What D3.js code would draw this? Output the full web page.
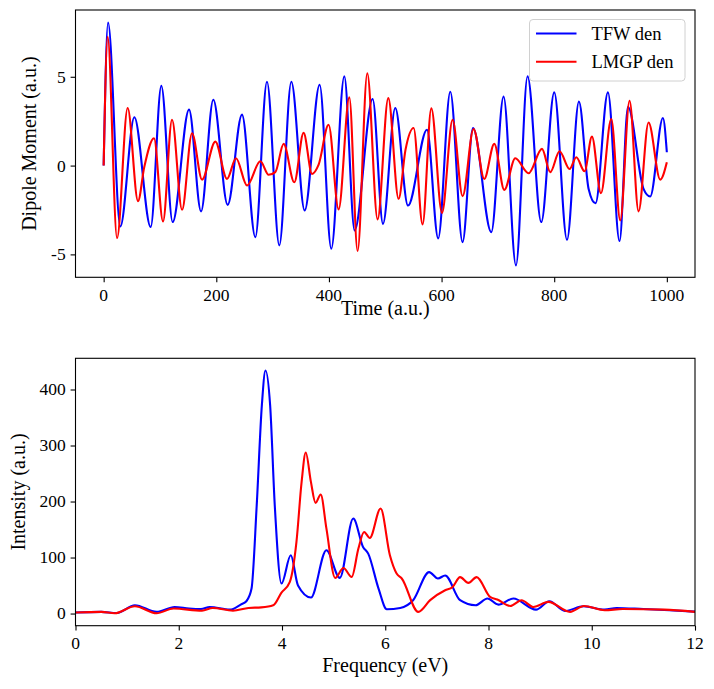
<!DOCTYPE html>
<html>
<head>
<meta charset="utf-8">
<script src="https://cdn.jsdelivr.net/npm/d3@7"></script>
<style>
  html, body { margin: 0; padding: 0; background: #fff; }
  svg { display: block; font-family: "Liberation Serif", "Times New Roman", Times, serif; }
  svg text { font-family: "Liberation Serif", "Times New Roman", Times, serif; fill: #000; }
</style>
</head>
<body>
<svg id="chart" width="714" height="689"></svg>
<script>
// ---------- Data ----------
// Top panel: dipole moment vs time (extrema / shape points)
const tfwTime = [0, 7.8, 29.6, 54.5, 83.5, 102.4, 122.5, 151.6, 172.9, 194.7, 220.2, 245.6, 269.3, 290, 311.9, 333.2, 356.9, 383.5, 404.2, 427.3, 445.6, 477.6, 496, 517.8, 540.4, 574.1, 594, 615.5, 637.3, 655.8, 688.3, 710.1, 732.1, 752.7, 777, 800.1, 822.7, 843.9, 861, 873.4, 895.4, 916, 931, 958.6, 970.5, 993, 1000];
const tfwDipole = [0, 8.05, -3.43, 2.72, -3.46, 4.49, -3.18, 3.15, -2.58, 3.71, -2.21, 2.87, -4.03, 4.72, -4.49, 4.72, -2.53, 4.55, -4.68, 5.02, -3.65, 3.75, -3.28, 3.24, -2.25, 2.02, -4.1, 4.16, -4.31, 2.12, -3.75, 3.88, -5.62, 5.02, -3.18, 4.12, -4.18, 3.6, -1.3, -2.12, 4.12, -4.25, 3.3, -1.31, -1.74, 2.68, 0.75];

const lmgpTime = [0, 7.1, 23.8, 42.6, 61, 72, 89.4, 105.4, 121.4, 139.2, 156.9, 174.7, 198.3, 219, 235, 254.6, 278.2, 293, 304.8, 319.6, 338.5, 355, 370, 381.7, 399.4, 417.2, 436.2, 450.9, 468.1, 486.4, 505.4, 523.7, 536, 550.3, 566.3, 581.8, 600.7, 619.6, 637.3, 656.9, 675.8, 693.6, 711.4, 730.9, 754.5, 778.3, 793, 809.5, 827.3, 839.2, 853.9, 867, 883, 901.3, 917.3, 933.8, 949.8, 967.5, 988.3, 1000];
const lmgpDipole = [0, 7.25, -4.08, 3.24, -2.0, -0.1, 1.54, -3.15, 2.58, -2.49, 1.82, -0.79, 1.35, -0.75, 0.41, -1.12, 0.24, -0.52, -0.37, 1.22, -0.94, 1.84, -0.47, 0.05, 2.3, -2.47, 3.84, -4.81, 5.19, -3.03, 3.8, -1.87, 0.9, 2.12, -3.31, 3.22, -2.66, 2.58, -1.72, 2.06, -0.75, 1.22, -1.37, 0.41, -0.43, 0.94, -0.37, 0.81, -0.19, 0.47, -0.32, 1.63, -1.56, 2.62, -3.09, 3.65, -2.58, 2.43, -0.79, 0.19];

// Bottom panel: spectrum
const tfwFreq = [0, 0.5, 0.8, 1.15, 1.57, 1.92, 2.2, 2.43, 2.6, 2.99, 3.2, 3.31, 3.41, 3.51, 3.61, 3.68, 3.77, 3.86, 3.99, 4.17, 4.31, 4.56, 4.86, 5.12, 5.38, 5.57, 5.67, 5.87, 6.03, 6.29, 6.54, 6.85, 7.02, 7.16, 7.45, 7.75, 7.98, 8.19, 8.48, 8.92, 9.18, 9.48, 9.84, 10.25, 10.48, 11, 11.5, 12];
const tfwIntensity = [2, 3, 1, 14.8, 3, 11.8, 9, 8, 11.8, 7, 16, 22, 44.6, 193, 372, 434, 372, 193, 53.6, 104, 50, 28.6, 113, 63.6, 169.6, 119, 107, 44.6, 7.7, 10, 23.8, 74, 62.5, 68, 23.8, 14.8, 26.8, 16, 26.8, 7, 22, 4.6, 13, 7, 10, 8, 6, 3.5];

const lmgpFreq = [0, 0.5, 0.76, 1.15, 1.57, 1.9, 2.45, 2.66, 3.05, 3.35, 3.6, 3.83, 3.99, 4.15, 4.28, 4.38, 4.46, 4.56, 4.65, 4.75, 4.86, 5.03, 5.19, 5.35, 5.48, 5.59, 5.70, 5.91, 6.09, 6.22, 6.32, 6.64, 6.87, 7.16, 7.3, 7.45, 7.61, 7.77, 8.03, 8.17, 8.42, 8.64, 8.87, 9.16, 9.58, 9.85, 10.25, 10.6, 11.4, 12];
const lmgpIntensity = [2, 3, 0.5, 13, 0.5, 9, 5, 10, 5, 10, 11, 14.8, 37.5, 56, 128, 235, 287.5, 235, 197.5, 212.5, 152, 63.6, 81.4, 65.4, 116, 145.7, 135, 187.5, 104, 71.4, 62.5, 3, 24, 41.6, 47, 65, 54.7, 65, 29.7, 25, 13.6, 23.8, 11.8, 20.8, 3, 13.6, 6, 8, 7, 3];

const timeTicks = [0, 200, 400, 600, 800, 1000];
const dipoleTicks = [-5, 0, 5];
const freqTicks = [0, 2, 4, 6, 8, 10, 12];
const intensityTicks = [0, 100, 200, 300, 400];

const seriesNames = ["TFW den", "LMGP den"];
const seriesColors = ["#0000ff", "#ff0000"];

// ---------- Layout ----------
const svg = d3.select("#chart");
const L = 75.5, R = 695;
const top1 = 10, bot1 = 277.3;
const top2 = 358.3, bot2 = 625.7;
const tickFont = 17.5, labelFont = 20, legendFont = 18.5;
const serif = "Liberation Serif, Times New Roman, Times, serif";

const xT = d3.scaleLinear().domain([-50, 1050]).range([L, R]);
const yT = d3.scaleLinear().domain([-6.29, 8.76]).range([bot1, top1]);
const xB = d3.scaleLinear().domain([0, 12]).range([L, R]);
const yB = d3.scaleLinear().domain([-21.7, 455.7]).range([bot2, top2]);

function zip(a, b) { return a.map((v, i) => [v, b[i]]); }

function drawPanel(xs, ys, top, bot, xTicks, yTicks, id) {
  svg.append("defs").append("clipPath").attr("id", id)
    .append("rect").attr("x", L).attr("y", top).attr("width", R - L).attr("height", bot - top);

  // tick marks from d3 axes; labels written as own text nodes
  const gx = svg.append("g").attr("transform", `translate(0,${bot})`)
    .call(d3.axisBottom(xs).tickValues(xTicks).tickSize(4.9).tickSizeOuter(0).tickFormat(""));
  const gy = svg.append("g").attr("transform", `translate(${L},0)`)
    .call(d3.axisLeft(ys).tickValues(yTicks).tickSize(4.9).tickSizeOuter(0).tickFormat(""));
  [gx, gy].forEach(g => {
    g.select(".domain").remove();
    g.selectAll("text").remove();
    g.selectAll(".tick line").attr("stroke", "#000").attr("stroke-width", 1.1);
  });
  const tl = svg.append("g");
  xTicks.forEach(d => {
    tl.append("text").attr("x", xs(d)).attr("y", bot + 23.4).attr("text-anchor", "middle")
      .attr("font-family", serif).attr("font-size", tickFont).text(String(d));
  });
  yTicks.forEach(d => {
    tl.append("text").attr("x", L - 9.8).attr("y", ys(d)).attr("dy", "0.34em").attr("text-anchor", "end")
      .attr("font-family", serif).attr("font-size", tickFont).text(String(d));
  });
}

function frame(top, bot) {
  svg.append("rect").attr("x", L).attr("y", top).attr("width", R - L).attr("height", bot - top)
    .attr("fill", "none").attr("stroke", "#000").attr("stroke-width", 1.1);
}

// ---- Top panel
drawPanel(xT, yT, top1, bot1, timeTicks, dipoleTicks, "clipTop");
const lineT = d3.line().x(d => xT(d[0])).y(d => yT(d[1])).curve(d3.curveMonotoneX);
const gTop = svg.append("g").attr("clip-path", "url(#clipTop)");
gTop.append("path").datum(zip(tfwTime, tfwDipole)).attr("d", lineT)
  .attr("fill", "none").attr("stroke", seriesColors[0]).attr("stroke-width", 2.1);
gTop.append("path").datum(zip(lmgpTime, lmgpDipole)).attr("d", lineT)
  .attr("fill", "none").attr("stroke", seriesColors[1]).attr("stroke-width", 2.1);
frame(top1, bot1);

// ---- Bottom panel
drawPanel(xB, yB, top2, bot2, freqTicks, intensityTicks, "clipBot");
const lineB = d3.line().x(d => xB(d[0])).y(d => yB(d[1])).curve(d3.curveMonotoneX);
const gBot = svg.append("g").attr("clip-path", "url(#clipBot)");
gBot.append("path").datum(zip(tfwFreq, tfwIntensity)).attr("d", lineB)
  .attr("fill", "none").attr("stroke", seriesColors[0]).attr("stroke-width", 2.1);
gBot.append("path").datum(zip(lmgpFreq, lmgpIntensity)).attr("d", lineB)
  .attr("fill", "none").attr("stroke", seriesColors[1]).attr("stroke-width", 2.1);
frame(top2, bot2);

// ---- Axis labels
function label(x, y, rot, txt) {
  const t = svg.append("text").attr("text-anchor", "middle")
    .attr("font-family", serif).attr("font-size", labelFont).text(txt);
  if (rot) t.attr("transform", `translate(${x},${y}) rotate(-90)`).attr("dy", "0.32em");
  else t.attr("x", x).attr("y", y);
}
label((L + R) / 2, 315, false, "Time (a.u.)");
label((L + R) / 2, 672, false, "Frequency (eV)");
label(30, (top1 + bot1) / 2, true, "Dipole Moment (a.u.)");
label(18.5, (top2 + bot2) / 2, true, "Intensity (a.u.)");

// ---- Legend
const lg = svg.append("g");
lg.append("rect").attr("x", 529.5).attr("y", 19.5).attr("width", 155.5).attr("height", 61.5)
  .attr("rx", 3.5).attr("fill", "#fff").attr("fill-opacity", 0.8)
  .attr("stroke", "#d0d0d0").attr("stroke-width", 1);
seriesNames.forEach((name, i) => {
  const yy = 33.5 + i * 28.3;
  lg.append("line").attr("x1", 536).attr("x2", 576.5).attr("y1", yy).attr("y2", yy)
    .attr("stroke", seriesColors[i]).attr("stroke-width", 2.1);
  lg.append("text").attr("x", 591.5).attr("y", yy).attr("dy", "0.33em")
    .attr("font-family", serif).attr("font-size", legendFont).text(name);
});
</script>
</body>
</html>
